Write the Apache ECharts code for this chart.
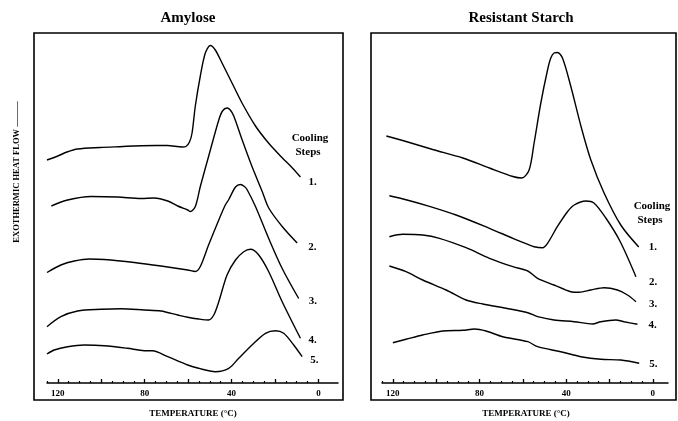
<!DOCTYPE html>
<html>
<head>
<meta charset="utf-8">
<script src="https://cdn.jsdelivr.net/npm/echarts@6/dist/echarts.min.js"></script>
<style>
html,body{margin:0;padding:0;background:#fff;}
#chart{width:678px;height:421px;}
</style>
</head>
<body>
<div id="chart"></div>
<script>
// ---------- data: [temperature °C, exothermic heat flow (arbitrary units)] ----------
var panelTitles = ['Amylose', 'Resistant Starch'];
var stepLabels = ['1.', '2.', '3.', '4.', '5.'];
var majorTicks = [0, 20, 40, 60, 80, 100, 120];
var tickLabels = [0, 40, 80, 120];
var minorTicks = [5, 10, 15, 25, 30, 35, 45, 50, 55, 65, 70, 75, 85, 90, 95, 105, 110, 115, 125];

var amylose1 = [[125,223],[120,227],[115.8,231],[110.9,234],[100.5,235.5],[90,236.5],[85.3,237],[75,237.5],[69.6,237.5],[62.7,236],[61,236.5],[59.4,241],[58.2,250],[56.7,277],[54.4,307],[52.1,330],[49.8,337.5],[47.5,333],[44.4,320],[39.8,300],[35.2,280],[29,257],[23,240],[16.6,225],[12,215],[8.3,206]];
var amylose2 = [[123,177],[115.5,183],[104.7,186.5],[92.5,186],[81.7,184.5],[75.6,185],[69.4,182],[64.8,177],[60.2,173],[59,171.5],[56.7,176.5],[54.4,196.5],[50.6,226.5],[45.9,263],[44.2,272],[42.1,275],[40.6,273],[39,267],[35.2,243.5],[30.6,216.5],[25.9,191.5],[22.9,175],[16.7,156.5],[9.8,140]];
var amylose3 = [[125,110.5],[118.6,118],[112.4,122],[105.5,124],[98.6,123.5],[84.8,120.5],[72.5,117],[60.2,113],[56.7,111.5],[54.4,116.5],[50.6,138],[45.9,163],[42.9,178],[41.3,183.5],[38.2,196],[35.9,198.5],[34.1,196.5],[32.9,193.5],[29,176.5],[22.9,144.5],[16.7,114.5],[9.1,84.5]];
var amylose4 = [[125,56.3],[118.6,66.3],[110.9,72],[100.1,73.7],[90.9,74.3],[80.2,73],[72.5,72],[64.8,68],[60.2,65.7],[55.2,64],[50.6,63],[48.2,68],[45.9,81.3],[42.1,108],[38.2,123],[34.4,131.3],[31.3,133.7],[27.5,128],[22.9,111.3],[16.7,81.3],[8.3,44.7]];
var amylose5 = [[125,29],[121.7,33],[115.5,36.3],[107.8,38],[98.6,37.3],[87.9,34.7],[80.2,32.3],[76.4,32.3],[69.4,26.3],[60.2,18],[55.2,14.7],[47.5,11.3],[41.3,14.7],[36.7,24.7],[30.6,38],[24.4,49.7],[19.8,52.3],[16,49.7],[11.4,38],[7.5,26.3]];

var starch1 = [[123,247],[113.9,241.5],[101.6,233.5],[87.7,225],[75.4,215],[64.6,206.5],[60.5,205],[57.1,213],[54.8,240],[51.7,280],[48.6,313],[47.1,325],[45.6,330],[44,330.5],[41.7,325],[37.9,297],[33.2,257],[28.6,223],[22.5,190],[14.8,158],[6.5,136]];
var starch2 = [[121.6,187.3],[113.9,183.3],[103.1,176.7],[90.8,168],[75.4,154.7],[64.6,144.7],[57.7,138.7],[54.8,136.3],[50.9,135.3],[48.6,139.7],[44.1,156.3],[39.4,171.3],[36.3,178],[30.9,182],[27.2,180],[21.7,165],[15.2,142],[7.8,106.3]];
var starch3 = [[121.6,146.3],[115.4,148.7],[106.2,148],[98.5,144.7],[86.2,135.3],[75.4,124.7],[64.6,116.3],[57.7,112],[53.2,104.7],[45.6,98],[37.9,91.3],[34,90.7],[28.6,93],[22.5,95.3],[16.3,93],[11.7,88],[7.8,81.3]];
var starch4 = [[121.6,117],[113.9,111.3],[106.2,103],[95.4,93],[86.2,83],[78.5,79],[67.7,74.7],[57.7,70.3],[53.2,66.3],[45.6,63],[36.3,61.3],[27.8,59],[24,61.3],[17.1,63],[13.3,61.3],[7.1,58.7]];
var starch5 = [[120,40.3],[113.9,43.7],[106.2,48],[97,52],[87.7,52.7],[82.3,54],[77,52],[69.3,46.3],[57.7,41.3],[53.2,36.3],[42.5,31.3],[33.2,26.3],[24,23.7],[14.8,23],[6.3,19.7]];

// ---------- layout / style ----------
var SERIF = '"Liberation Serif", "DejaVu Serif", serif';
var panels = [
  {data: [amylose1, amylose2, amylose3, amylose4, amylose5], min: -9,
   offsets: [[8,5],[11,4],[10,3],[8,2],[8,3]]},
  {data: [starch1, starch2, starch3, starch4, starch5], min: -7,
   offsets: [[10,0],[13,5],[13,2],[11,1],[10,1]]}
];

var grids = [
  {left: 47, width: 291, top: 33, bottom: 38},
  {left: 382, width: 286, top: 33, bottom: 38}
];

var xAxes = [], yAxes = [], series = [];
panels.forEach(function (p, gi) {
  xAxes.push({
    type: 'value', gridIndex: gi, position: 'bottom', inverse: true,
    min: p.min, max: 125,
    axisLine: {show: true, lineStyle: {color: '#000', width: 1.5}},
    axisTick: {show: true, inside: true, length: 4, customValues: majorTicks, lineStyle: {color: '#000', width: 1.3}},
    axisLabel: {show: true, customValues: tickLabels, margin: 6, color: '#000',
                fontFamily: SERIF, fontWeight: 'bold', fontSize: 9},
    splitLine: {show: false}
  });
  xAxes.push({
    type: 'value', gridIndex: gi, position: 'bottom', inverse: true,
    min: p.min, max: 125,
    axisLine: {show: false},
    axisTick: {show: true, inside: true, length: 2, customValues: minorTicks, lineStyle: {color: '#000', width: 1.2}},
    axisLabel: {show: false},
    splitLine: {show: false}
  });
  yAxes.push({type: 'value', gridIndex: gi, min: 0, max: 350, show: false, splitLine: {show: false}});
  p.data.forEach(function (d, si) {
    var last = d[d.length - 1];
    series.push({
      type: 'line', xAxisIndex: gi * 2, yAxisIndex: gi, data: d,
      showSymbol: false, smooth: 0.3, silent: true, animation: false,
      lineStyle: {color: '#000', width: 1.4},
      markPoint: {
        silent: true, symbol: 'circle', symbolSize: 0,
        data: [{coord: last}],
        label: {show: true, position: 'right', distance: 0, offset: p.offsets[si],
                formatter: stepLabels[si], color: '#000',
                fontFamily: SERIF, fontWeight: 'bold', fontSize: 11}
      }
    });
  });
});

var textStyle = {fill: '#000', fontFamily: SERIF, fontWeight: 'bold'};
function txt(t, x, y, size, rot) {
  return {type: 'text', x: x, y: y, rotation: rot || 0, silent: true,
    style: Object.assign({text: t, fontSize: size, textAlign: 'center', textVerticalAlign: 'middle'}, textStyle)};
}

var option = {
  animation: false,
  backgroundColor: '#fff',
  grid: grids,
  xAxis: xAxes,
  yAxis: yAxes,
  series: series,
  graphic: [
    {type: 'rect', silent: true, shape: {x: 34, y: 33, width: 309, height: 367},
     style: {fill: 'none', stroke: '#000', lineWidth: 1.6}},
    {type: 'rect', silent: true, shape: {x: 371, y: 33, width: 305, height: 367},
     style: {fill: 'none', stroke: '#000', lineWidth: 1.6}},
    txt(panelTitles[0], 188, 18, 15),
    txt(panelTitles[1], 521, 18, 15),
    txt('TEMPERATURE (°C)', 193, 414, 9),
    txt('TEMPERATURE (°C)', 526, 414, 9),
    txt('EXOTHERMIC HEAT FLOW ———', 17, 172, 8.5, Math.PI / 2),
    txt('Cooling', 310, 138, 11),
    txt('Steps', 308, 152, 11),
    txt('Cooling', 652, 206, 11),
    txt('Steps', 650, 220, 11)
  ]
};

var chart = echarts.init(document.getElementById('chart'), null, {renderer: 'canvas'});
chart.setOption(option);
</script>
</body>
</html>
